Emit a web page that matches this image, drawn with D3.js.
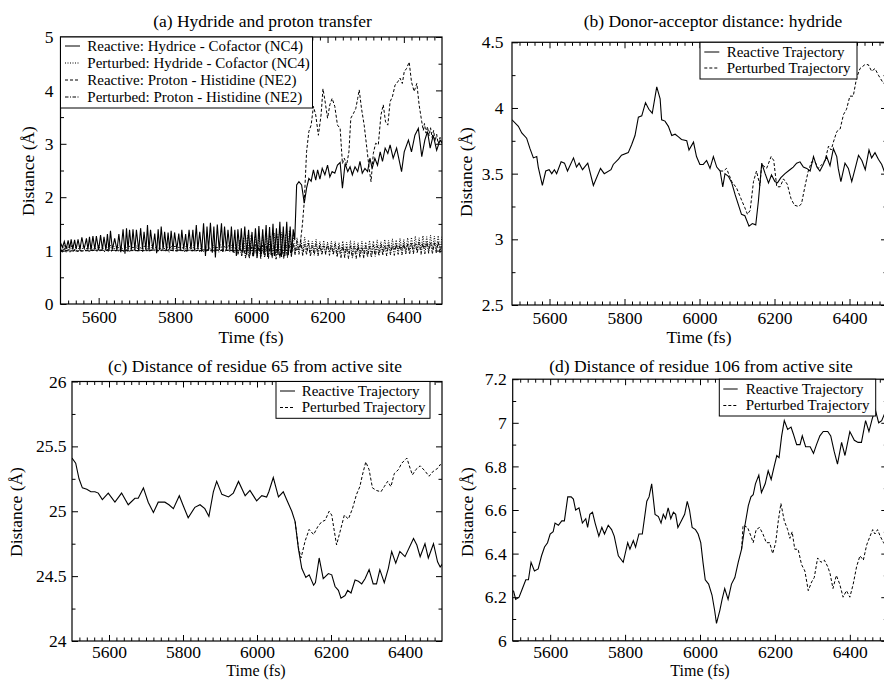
<!DOCTYPE html>
<html>
<head>
<meta charset="utf-8">
<script src="https://cdn.jsdelivr.net/npm/d3@7"></script>
<style>
  body { margin: 0; background: #fff; }
  svg text { font-family: "Liberation Serif", "Times New Roman", serif; fill: #000; }
</style>
</head>
<body>
<svg id="fig" width="884" height="680"></svg>
<script>
// ---- shared axis values ----
const timeTicks = [5600, 5800, 6000, 6200, 6400];
const timeMinor = d3.range(5520, 6500, 20).filter(t => !timeTicks.includes(t));

// ---- (a) hydride and proton transfer ----
const aYTicks = [0, 1, 2, 3, 4, 5];
const aYMinor = [0.5, 1.5, 2.5, 3.5, 4.5];
const aLegend = ["Reactive: Hydrice - Cofactor (NC4)", "Perturbed: Hydride - Cofactor (NC4)",
                 "Reactive: Proton - Histidine (NE2)", "Perturbed: Proton - Histidine (NE2)"];

// reactive hydride - cofactor: [time fs, distance]
const aReactHydride = [
  [5500,1.15],[5505,1.06],[5510,1.17],[5515,1.03],[5520,1.19],[5524,1.04],[5528,1.21],[5532,1.02],
  [5537,1.20],[5541,1.03],[5546,1.21],[5551,1.02],[5556,1.25],[5562,1.03],[5568,1.23],[5572,1.02],
  [5576,1.26],[5580,1.01],[5585,1.27],[5590,1.02],[5594,1.27],[5600,1.01],[5605,1.29],[5610,1.02],
  [5614,1.26],[5619,1.01],[5623,1.31],[5627,1.00],[5631,1.37],[5636,1.02],[5642,1.23],[5648,1.01],
  [5653,1.31],[5658,0.97],[5664,1.40],[5669,0.94],[5673,1.42],[5677,1.01],[5681,1.39],[5686,1.02],
  [5690,1.40],[5695,1.01],[5699,1.39],[5705,1.00],[5710,1.42],[5715,1.02],[5719,1.35],[5724,1.01],
  [5728,1.48],[5732,1.00],[5736,1.39],[5742,1.02],[5747,1.32],[5752,0.95],[5756,1.40],[5760,1.01],
  [5764,1.45],[5769,1.02],[5773,1.35],[5778,1.01],[5782,1.34],[5786,1.02],[5790,1.37],[5795,1.01],
  [5799,1.34],[5805,1.02],[5810,1.32],[5814,1.01],[5818,1.39],[5823,1.02],[5828,1.31],[5832,1.00],
  [5837,1.39],[5842,1.02],[5847,1.39],[5851,1.01],[5856,1.48],[5860,1.02],[5865,1.35],[5870,0.98],
  [5875,1.51],[5880,0.90],[5884,1.45],[5888,1.01],[5893,1.52],[5898,0.96],[5902,1.45],[5906,0.87],
  [5911,1.49],[5916,1.01],[5922,1.51],[5926,0.98],[5930,1.45],[5935,1.02],[5939,1.39],[5944,1.01],
  [5948,1.45],[5952,0.97],[5957,1.39],[5961,0.90],[5965,1.40],[5970,1.00],[5974,1.42],[5978,0.96],
  [5983,1.45],[5988,0.92],[5993,1.39],[5997,0.95],[6002,1.35],[6006,0.90],[6011,1.42],[6016,0.92],
  [6020,1.46],[6025,0.90],[6030,1.40],[6034,0.94],[6039,1.48],[6043,0.88],[6048,1.44],[6052,0.92],
  [6057,1.50],[6061,0.90],[6066,1.42],[6070,0.92],[6075,1.54],[6079,0.88],[6084,1.45],[6088,0.90],
  [6093,1.54],[6097,0.92],[6102,1.45],[6106,0.95],[6110,1.40],[6114,1.20],[6119,2.23],[6125,2.29],
  [6132,2.23],[6139,1.89],[6145,2.17],[6151,2.35],[6157,2.30],[6163,2.51],[6169,2.32],[6174,2.51],
  [6180,2.34],[6186,2.54],[6193,2.42],[6200,2.60],[6206,2.38],[6212,2.48],[6219,2.45],[6226,2.60],
  [6233,2.65],[6239,2.17],[6246,2.63],[6253,2.48],[6259,2.57],[6265,2.42],[6272,2.57],[6279,2.48],
  [6285,2.67],[6291,2.45],[6298,2.54],[6305,2.48],[6311,2.73],[6317,2.54],[6324,2.73],[6331,2.60],
  [6338,2.85],[6344,2.67],[6351,2.92],[6358,2.82],[6364,2.98],[6372,2.73],[6381,2.92],[6394,2.48],
  [6401,2.85],[6412,3.07],[6420,2.85],[6429,3.16],[6438,3.29],[6447,2.76],[6455,3.07],[6462,3.23],
  [6469,2.92],[6477,3.16],[6486,2.88],[6495,3.07],[6505,2.98]
];

// perturbed hydride - cofactor, one value every 5 fs from 5500
const aPertHydride = [
  1.06,0.97,1.10,0.98,1.08,0.96,1.11,0.99,1.07,0.97,1.09,0.98,1.10,0.99,1.06,0.97,1.09,1.00,1.08,0.98,
  1.10,0.99,1.07,0.97,1.09,0.98,1.11,1.00,1.08,0.98,1.10,0.99,1.07,0.97,1.09,0.98,1.10,1.00,1.08,0.99,
  1.09,0.98,1.07,0.97,1.10,0.99,1.08,0.98,1.11,1.00,1.07,0.98,1.09,0.99,1.10,0.98,1.08,0.97,1.09,0.99,
  1.10,0.98,1.08,0.99,1.07,0.97,1.10,1.00,1.09,0.98,1.11,0.99,1.08,0.97,1.10,0.98,1.09,1.00,1.07,0.98,
  1.10,0.99,1.08,0.97,1.11,0.98,1.09,1.00,1.10,0.98,1.12,0.96,1.15,0.94,1.20,0.92,
  1.25,0.90,1.28,0.88,1.30,0.89,1.27,0.87,1.32,0.90,1.29,0.88,1.31,0.89,1.28,0.87,1.33,0.90,1.30,0.88,
  1.34,0.89,1.31,0.88,1.38,0.92,1.30,0.95,
  1.24,1.00,1.22,0.98,1.25,1.01,1.20,0.97,1.18,0.99,1.21,0.96,1.17,0.98,1.19,0.95,1.16,0.97,1.18,0.96,
  1.17,0.94,1.15,0.96,1.18,0.93,1.16,0.95,1.19,0.94,1.17,0.96,1.15,0.93,1.18,0.95,1.16,0.94,1.19,0.96,
  1.18,0.97,1.20,0.98,1.17,0.99,1.21,1.00,1.19,0.98,1.22,1.01,1.20,0.99,1.23,1.00,1.21,0.98,1.24,1.01,
  1.25,1.00,1.27,1.02,1.24,1.01,1.28,1.03,1.26,1.00,1.29,1.02,1.27,1.01,1.28,1.00,1.26
];

// reactive proton - histidine: [time fs, distance]
const aReactProton = [
  [5500,1.00],[5550,0.99],[5600,1.01],[5650,1.00],[5700,1.00],[5750,1.01],[5800,1.00],[5850,1.00],
  [5900,1.01],[5950,1.00],[6000,1.00],[6050,1.01],[6100,1.00],[6122,1.02],[6128,1.10],[6134,1.48],
  [6139,1.92],[6145,2.85],[6151,3.23],[6157,3.35],[6163,3.70],[6169,3.54],[6176,3.16],[6183,3.54],
  [6188,4.03],[6193,3.82],[6200,3.48],[6206,3.73],[6212,3.85],[6219,3.70],[6226,3.35],[6233,3.29],
  [6239,2.63],[6244,2.73],[6250,2.60],[6256,2.85],[6261,3.48],[6268,3.57],[6274,3.66],[6279,3.85],
  [6283,4.01],[6289,3.66],[6296,3.35],[6302,2.98],[6309,2.54],[6314,2.29],[6320,2.82],[6326,3.01],
  [6333,2.98],[6340,3.54],[6346,3.73],[6352,3.41],[6358,3.35],[6364,3.79],[6370,3.88],[6377,4.10],
  [6384,4.16],[6390,4.23],[6396,4.13],[6401,4.35],[6407,4.41],[6414,4.53],[6420,4.16],[6427,3.98],
  [6434,4.13],[6440,3.73],[6447,3.41],[6451,3.25],[6454,3.38],[6458,3.20],[6462,3.32],[6466,3.15],
  [6470,3.30],[6474,3.12],[6478,3.25],[6482,3.05],[6486,3.18],[6490,3.00],[6495,3.12],[6500,2.98],
  [6505,3.04]
];

// perturbed proton - histidine, one value every 5 fs from 5500
const aPertProton = [
  1.03,0.96,1.04,0.97,1.02,0.98,1.01,0.99,1.02,0.98,1.01,0.99,1.00,1.00,1.01,0.99,1.00,1.00,1.01,0.99,
  1.00,1.00,1.01,0.99,1.00,1.01,1.00,0.99,1.01,1.00,1.00,0.99,1.01,1.00,1.00,1.01,0.99,1.00,1.01,1.00,
  1.00,0.99,1.01,1.00,1.00,1.01,0.99,1.00,1.01,1.00,1.00,0.99,1.01,1.00,1.00,1.01,0.99,1.00,1.01,1.00,
  1.00,0.99,1.01,1.00,1.00,1.01,0.99,1.00,1.01,1.00,1.00,0.99,1.01,1.00,1.00,1.01,0.99,1.00,1.01,1.00,
  1.00,0.99,1.01,1.00,1.00,1.01,0.99,1.00,1.01,0.98,1.03,0.96,1.05,0.93,1.06,0.90,
  1.08,0.86,1.10,0.85,1.07,0.88,1.11,0.86,1.09,0.85,1.10,0.87,1.08,0.85,1.11,0.86,1.09,0.84,1.10,0.86,
  1.08,0.85,1.12,0.87,1.10,0.88,1.14,0.92,
  1.18,0.93,1.15,0.90,1.12,0.92,1.14,0.89,1.10,0.91,1.13,0.90,1.11,0.92,1.09,0.93,1.12,0.91,1.10,0.92,
  1.11,0.88,1.08,0.86,1.10,0.87,1.07,0.85,1.09,0.86,1.08,0.85,1.10,0.87,1.07,0.86,1.09,0.88,1.08,0.87,
  1.10,0.89,1.09,0.90,1.11,0.91,1.10,0.90,1.12,0.92,1.11,0.91,1.13,0.93,1.12,0.92,1.14,0.94,1.13,0.93,
  1.15,0.94,1.14,0.95,1.16,0.93,1.15,0.94,1.17,0.95,1.16,0.94,1.15,0.96,1.17,0.95,1.16
];

// ---- (b) donor-acceptor distance ----
const bYTicks = [2.5, 3, 3.5, 4, 4.5];
const bYMinor = [2.75, 3.25, 3.75, 4.25];
const trajLegend = ["Reactive Trajectory", "Perturbed Trajectory"];

const bReactive = [
  [5500,3.91],[5517,3.86],[5526,3.81],[5539,3.77],[5548,3.69],[5557,3.62],[5566,3.63],[5570,3.55],
  [5581,3.41],[5590,3.52],[5599,3.53],[5606,3.50],[5613,3.53],[5619,3.50],[5631,3.59],[5640,3.58],
  [5648,3.52],[5664,3.62],[5672,3.55],[5679,3.58],[5688,3.53],[5702,3.58],[5717,3.41],[5736,3.54],
  [5746,3.50],[5764,3.53],[5770,3.57],[5784,3.61],[5792,3.64],[5810,3.66],[5819,3.72],[5828,3.79],
  [5837,3.93],[5846,3.94],[5856,4.04],[5865,3.99],[5874,3.96],[5886,4.16],[5895,4.07],[5899,3.91],
  [5908,3.90],[5917,3.86],[5926,3.79],[5935,3.80],[5944,3.78],[5952,3.76],[5966,3.75],[5972,3.68],
  [5984,3.74],[5992,3.63],[6001,3.57],[6010,3.57],[6019,3.60],[6028,3.54],[6037,3.63],[6046,3.55],
  [6055,3.52],[6062,3.40],[6068,3.50],[6077,3.48],[6086,3.43],[6095,3.34],[6104,3.26],[6112,3.19],
  [6121,3.18],[6132,3.10],[6141,3.12],[6150,3.11],[6157,3.29],[6166,3.58],[6175,3.50],[6184,3.43],
  [6192,3.49],[6201,3.44],[6208,3.43],[6217,3.47],[6228,3.50],[6241,3.53],[6250,3.55],[6259,3.58],
  [6268,3.59],[6277,3.55],[6286,3.54],[6295,3.52],[6304,3.63],[6313,3.55],[6321,3.52],[6330,3.57],
  [6339,3.63],[6348,3.56],[6357,3.69],[6366,3.63],[6370,3.54],[6377,3.44],[6388,3.58],[6397,3.54],
  [6406,3.44],[6416,3.55],[6424,3.64],[6433,3.60],[6442,3.53],[6452,3.68],[6459,3.62],[6468,3.66],
  [6477,3.61],[6486,3.57],[6495,3.50],[6505,3.52]
];
const bPerturbed = [
  [6055,3.52],[6064,3.52],[6072,3.54],[6086,3.44],[6099,3.39],[6112,3.30],[6121,3.24],[6128,3.19],
  [6135,3.22],[6144,3.44],[6152,3.52],[6161,3.41],[6166,3.57],[6179,3.54],[6191,3.63],[6198,3.60],
  [6206,3.40],[6215,3.40],[6224,3.46],[6234,3.42],[6244,3.31],[6253,3.26],[6264,3.25],[6272,3.27],
  [6281,3.40],[6290,3.52],[6299,3.59],[6308,3.59],[6317,3.54],[6326,3.57],[6335,3.60],[6344,3.71],
  [6351,3.68],[6357,3.74],[6366,3.82],[6375,3.84],[6384,3.95],[6392,3.99],[6401,4.09],[6410,4.09],
  [6419,4.23],[6428,4.30],[6441,4.33],[6450,4.33],[6459,4.28],[6468,4.30],[6477,4.25],[6490,4.19],
  [6505,4.16]
];

// ---- (c) residue 65 ----
const cYTicks = [24, 24.5, 25, 25.5, 26];
const cYMinor = [24.25, 24.75, 25.25, 25.75];

const cReactive = [
  [5500,25.41],[5510,25.37],[5519,25.25],[5528,25.18],[5540,25.17],[5551,25.15],[5562,25.15],[5571,25.14],
  [5582,25.09],[5598,25.14],[5616,25.07],[5634,25.14],[5652,25.05],[5670,25.10],[5679,25.10],[5693,25.18],
  [5706,25.07],[5720,24.99],[5733,25.07],[5751,25.07],[5762,25.05],[5774,25.02],[5790,25.12],[5801,25.04],
  [5814,24.95],[5832,25.03],[5846,25.05],[5859,25.02],[5870,24.96],[5882,25.15],[5891,25.23],[5905,25.13],
  [5923,25.11],[5936,25.14],[5950,25.23],[5968,25.12],[5981,25.16],[5999,25.08],[6013,25.12],[6026,25.11],
  [6032,25.15],[6044,25.26],[6058,25.11],[6071,25.15],[6080,25.09],[6094,25.00],[6103,24.92],[6112,24.71],
  [6121,24.56],[6132,24.49],[6141,24.51],[6153,24.43],[6158,24.45],[6168,24.64],[6179,24.48],[6193,24.52],
  [6202,24.51],[6211,24.42],[6220,24.39],[6227,24.33],[6238,24.35],[6245,24.39],[6254,24.37],[6265,24.47],
  [6274,24.46],[6283,24.44],[6292,24.48],[6303,24.55],[6314,24.44],[6323,24.44],[6332,24.55],[6344,24.45],
  [6355,24.56],[6364,24.69],[6375,24.60],[6386,24.69],[6400,24.65],[6423,24.79],[6432,24.74],[6441,24.65],
  [6454,24.75],[6463,24.64],[6477,24.75],[6488,24.61],[6495,24.57],[6505,24.61]
];
const cPerturbed = [
  [6103,24.92],[6112,24.72],[6119,24.64],[6130,24.77],[6141,24.86],[6153,24.82],[6164,24.88],[6175,24.92],
  [6184,24.93],[6195,25.00],[6202,24.97],[6215,24.74],[6227,24.87],[6236,24.97],[6247,24.94],[6258,25.02],
  [6269,25.13],[6278,25.19],[6285,25.28],[6294,25.38],[6303,25.32],[6312,25.18],[6323,25.16],[6335,25.15],
  [6344,25.19],[6353,25.23],[6362,25.19],[6371,25.29],[6382,25.32],[6391,25.37],[6405,25.41],[6414,25.33],
  [6420,25.28],[6429,25.32],[6441,25.35],[6454,25.31],[6465,25.27],[6477,25.31],[6488,25.33],[6495,25.36],
  [6505,25.34]
];

// ---- (d) residue 106 ----
const dYTicks = [6, 6.2, 6.4, 6.6, 6.8, 7, 7.2];
const dYMinor = [6.1, 6.3, 6.5, 6.7, 6.9, 7.1];

const dReactive = [
  [5502,6.23],[5508,6.19],[5517,6.20],[5526,6.24],[5535,6.28],[5542,6.28],[5549,6.36],[5558,6.32],
  [5568,6.33],[5577,6.39],[5585,6.43],[5593,6.45],[5600,6.49],[5608,6.50],[5613,6.54],[5622,6.53],
  [5631,6.55],[5638,6.55],[5647,6.66],[5656,6.66],[5662,6.65],[5668,6.60],[5677,6.61],[5686,6.54],
  [5695,6.56],[5700,6.52],[5706,6.58],[5713,6.59],[5720,6.54],[5730,6.48],[5738,6.52],[5745,6.49],
  [5755,6.53],[5764,6.51],[5771,6.48],[5782,6.39],[5795,6.36],[5807,6.45],[5813,6.42],[5822,6.46],
  [5828,6.43],[5837,6.49],[5846,6.49],[5858,6.64],[5864,6.66],[5871,6.72],[5880,6.58],[5889,6.57],
  [5896,6.54],[5902,6.58],[5908,6.56],[5915,6.61],[5922,6.56],[5929,6.59],[5935,6.58],[5941,6.52],
  [5950,6.55],[5959,6.58],[5966,6.64],[5972,6.60],[5979,6.52],[5988,6.51],[5995,6.49],[6002,6.45],
  [6008,6.36],[6014,6.28],[6023,6.26],[6032,6.21],[6039,6.14],[6044,6.08],[6053,6.14],[6059,6.19],
  [6066,6.24],[6075,6.19],[6084,6.26],[6093,6.29],[6102,6.36],[6111,6.42],[6120,6.53],[6129,6.62],
  [6136,6.66],[6142,6.67],[6148,6.72],[6157,6.76],[6164,6.68],[6174,6.72],[6182,6.78],[6190,6.74],
  [6198,6.80],[6205,6.85],[6211,6.84],[6218,6.94],[6225,7.01],[6234,6.97],[6243,6.98],[6249,6.95],
  [6258,6.90],[6267,6.90],[6273,6.94],[6282,6.89],[6294,6.89],[6303,6.86],[6311,6.90],[6320,6.94],
  [6329,6.96],[6341,6.96],[6349,6.94],[6358,6.87],[6367,6.81],[6378,6.91],[6387,6.85],[6400,6.96],
  [6412,6.92],[6422,6.91],[6431,6.91],[6442,7.01],[6451,6.96],[6460,7.02],[6468,7.06],[6477,7.00],
  [6485,7.01],[6495,7.05],[6505,7.03]
];
const dPerturbed = [
  [6111,6.42],[6115,6.53],[6127,6.52],[6136,6.48],[6142,6.45],[6150,6.51],[6159,6.52],[6168,6.49],
  [6177,6.45],[6186,6.45],[6194,6.40],[6202,6.45],[6209,6.55],[6216,6.63],[6225,6.55],[6234,6.51],
  [6240,6.47],[6246,6.50],[6253,6.42],[6262,6.42],[6271,6.35],[6280,6.32],[6289,6.23],[6298,6.27],
  [6305,6.29],[6314,6.38],[6323,6.36],[6332,6.37],[6341,6.34],[6347,6.31],[6355,6.24],[6364,6.30],
  [6373,6.26],[6382,6.20],[6391,6.23],[6400,6.20],[6409,6.26],[6418,6.34],[6427,6.39],[6436,6.37],
  [6445,6.44],[6454,6.48],[6461,6.51],[6467,6.49],[6474,6.51],[6481,6.48],[6490,6.45],[6505,6.42]
];

// ---- line styles ----
const SOLID = null, DOTTED = "1,1.5", DASHED = "3,2", DASHDOT = "3.5,1.5,1,1.5";
const FONT = "'Liberation Serif', 'Times New Roman', serif";

const svg = d3.select("#fig");
const gridTimes = arr => arr.map((v, i) => [5500 + 5 * i, v]);

function drawPanel(p) {
  const x = d3.scaleLinear().domain([5500, 6500]).range([p.left, p.right]);
  const y = d3.scaleLinear().domain(p.yDomain).range([p.bottom, p.top]);
  const g = svg.append("g");

  // clip to plot box
  svg.append("clipPath").attr("id", "clip-" + p.id)
    .append("rect")
      .attr("x", p.left).attr("y", p.top)
      .attr("width", p.right - p.left).attr("height", p.bottom - p.top);

  const styleAxis = sel => {
    sel.select(".domain").remove();
    sel.attr("font-family", FONT).attr("font-size", 17.5);
  };

  // major + minor ticks on all four sides, pointing inward
  g.append("g").attr("transform", `translate(0,${p.bottom})`)
    .call(d3.axisBottom(x).tickValues(timeTicks).tickSize(-6).tickSizeOuter(0)
            .tickPadding(p.xPad).tickFormat(d3.format("d")))
    .call(styleAxis);
  g.append("g").attr("transform", `translate(0,${p.bottom})`)
    .call(d3.axisBottom(x).tickValues(timeMinor).tickSize(-3.5).tickSizeOuter(0).tickFormat(""))
    .call(styleAxis);
  g.append("g").attr("transform", `translate(0,${p.top})`)
    .call(d3.axisTop(x).tickValues(timeTicks).tickSize(-6).tickSizeOuter(0).tickFormat(""))
    .call(styleAxis);
  g.append("g").attr("transform", `translate(0,${p.top})`)
    .call(d3.axisTop(x).tickValues(timeMinor).tickSize(-3.5).tickSizeOuter(0).tickFormat(""))
    .call(styleAxis);

  g.append("g").attr("transform", `translate(${p.left},0)`)
    .call(d3.axisLeft(y).tickValues(p.yTicks).tickSize(-6).tickSizeOuter(0)
            .tickPadding(p.yPad).tickFormat(d => String(d)))
    .call(styleAxis);
  g.append("g").attr("transform", `translate(${p.left},0)`)
    .call(d3.axisLeft(y).tickValues(p.yMinor).tickSize(-3.5).tickSizeOuter(0).tickFormat(""))
    .call(styleAxis);
  g.append("g").attr("transform", `translate(${p.right},0)`)
    .call(d3.axisRight(y).tickValues(p.yTicks).tickSize(-6).tickSizeOuter(0).tickFormat(""))
    .call(styleAxis);
  g.append("g").attr("transform", `translate(${p.right},0)`)
    .call(d3.axisRight(y).tickValues(p.yMinor).tickSize(-3.5).tickSizeOuter(0).tickFormat(""))
    .call(styleAxis);

  // data lines
  const line = d3.line().x(d => x(d[0])).y(d => y(d[1]));
  const lines = g.append("g").attr("clip-path", `url(#clip-${p.id})`);
  p.series.forEach(s => {
    lines.append("path")
      .datum(s.data)
      .attr("fill", "none")
      .attr("stroke", "#000")
      .attr("stroke-width", s.width || 1)
      .attr("stroke-dasharray", s.dash)
      .attr("d", line);
  });

  // frame
  g.append("rect")
    .attr("x", p.left).attr("y", p.top)
    .attr("width", p.right - p.left).attr("height", p.bottom - p.top)
    .attr("fill", "none").attr("stroke", "#000").attr("stroke-width", 1.2);

  // legend
  const L = p.legend;
  g.append("rect")
    .attr("x", L.x0).attr("y", L.y0)
    .attr("width", L.x1 - L.x0).attr("height", L.y1 - L.y0)
    .attr("fill", "#fff").attr("stroke", "#000").attr("stroke-width", 1);
  L.labels.forEach((lab, i) => {
    const yy = L.rowY + i * L.rowH;
    g.append("line")
      .attr("x1", L.sx0).attr("x2", L.sx1)
      .attr("y1", yy - 4.5).attr("y2", yy - 4.5)
      .attr("stroke", "#000").attr("stroke-width", 1)
      .attr("stroke-dasharray", p.series[i].dash);
    g.append("text")
      .attr("x", L.tx).attr("y", yy)
      .attr("font-family", FONT).attr("font-size", 15)
      .text(lab);
  });

  // titles and axis labels
  g.append("text")
    .attr("x", p.titleX).attr("y", p.titleY)
    .attr("text-anchor", "middle")
    .attr("font-family", FONT).attr("font-size", 17.5)
    .text(p.title);
  g.append("text")
    .attr("x", p.xLabelX).attr("y", p.xLabelY)
    .attr("text-anchor", "middle")
    .attr("font-family", FONT).attr("font-size", p.xLabelSize || 17.5)
    .text("Time (fs)");
  g.append("text")
    .attr("transform", `translate(${p.yLabelX},${p.yLabelY}) rotate(-90)`)
    .attr("text-anchor", "middle")
    .attr("font-family", FONT).attr("font-size", 17.5)
    .text("Distance (Å)");
}

drawPanel({
  id: "a", left: 60.5, right: 442, top: 37, bottom: 304,
  yDomain: [0, 5], yTicks: aYTicks, yMinor: aYMinor, xPad: 6.5, yPad: 7,
  title: "(a) Hydride and proton transfer", titleX: 262.5, titleY: 26.5,
  xLabelX: 251, xLabelY: 343, yLabelX: 34, yLabelY: 171,
  series: [
    { data: aReactHydride, dash: SOLID, width: 1.1 },
    { data: gridTimes(aPertHydride), dash: DOTTED },
    { data: aReactProton, dash: DASHED },
    { data: gridTimes(aPertProton), dash: DASHDOT }
  ],
  legend: { x0: 60.5, x1: 312.5, y0: 37, y1: 108, sx0: 65, sx1: 80, tx: 87.3,
            rowY: 50.5, rowH: 17, labels: aLegend }
});

drawPanel({
  id: "b", left: 512, right: 887, top: 42.3, bottom: 305,
  yDomain: [2.5, 4.5], yTicks: bYTicks, yMinor: bYMinor, xPad: 6.5, yPad: 8.5,
  title: "(b) Donor-acceptor distance: hydride", titleX: 713, titleY: 26.5,
  xLabelX: 699, xLabelY: 343, yLabelX: 472, yLabelY: 172,
  series: [
    { data: bReactive, dash: SOLID, width: 1.1 },
    { data: bPerturbed, dash: DASHED }
  ],
  legend: { x0: 700, x1: 857, y0: 42.3, y1: 79, sx0: 704.3, sx1: 719.3, tx: 726.7,
            rowY: 56.5, rowH: 16, labels: trajLegend }
});

drawPanel({
  id: "c", left: 72, right: 442, top: 381.5, bottom: 641,
  yDomain: [24, 26], yTicks: cYTicks, yMinor: cYMinor, xPad: 4.5, yPad: 5.5,
  title: "(c) Distance of residue 65 from active site", titleX: 255, titleY: 371.5,
  xLabelX: 256, xLabelY: 676, xLabelSize: 16, yLabelX: 22, yLabelY: 512,
  series: [
    { data: cReactive, dash: SOLID, width: 1.1 },
    { data: cPerturbed, dash: DASHED }
  ],
  legend: { x0: 276, x1: 430, y0: 381.5, y1: 418.3, sx0: 280, sx1: 295, tx: 301.7,
            rowY: 395.5, rowH: 16.5, labels: trajLegend }
});

drawPanel({
  id: "d", left: 512.7, right: 887.3, top: 379.2, bottom: 640.8,
  yDomain: [6, 7.2], yTicks: dYTicks, yMinor: dYMinor, xPad: 4.5, yPad: 6,
  title: "(d) Distance of residue 106 from active site", titleX: 701, titleY: 371.5,
  xLabelX: 700, xLabelY: 676, xLabelSize: 16, yLabelX: 473, yLabelY: 512,
  series: [
    { data: dReactive, dash: SOLID, width: 1.1 },
    { data: dPerturbed, dash: DASHED }
  ],
  legend: { x0: 719.3, x1: 875.7, y0: 379.2, y1: 416, sx0: 723.3, sx1: 737.7, tx: 745.7,
            rowY: 393.5, rowH: 16.5, labels: trajLegend }
});
</script>
</body>
</html>
